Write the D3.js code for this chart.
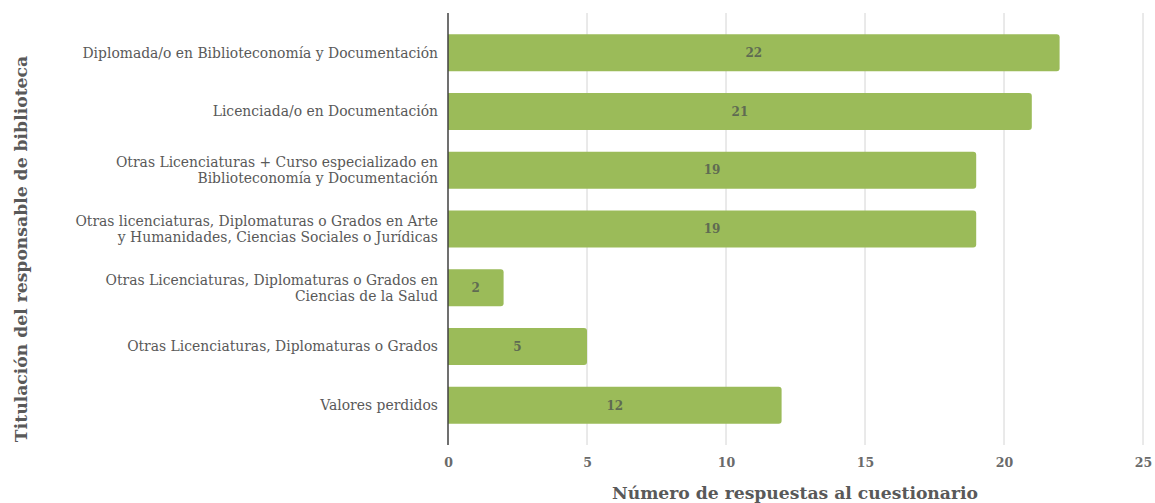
<!DOCTYPE html>
<html>
<head>
<meta charset="utf-8">
<script src="https://cdn.jsdelivr.net/npm/d3@7"></script>
<style>
  html, body { margin: 0; padding: 0; background: #ffffff; }
  svg { display: block; }
  text { font-family: "DejaVu Serif", "Liberation Serif", serif; }
</style>
</head>
<body>
<svg id="chart" width="1155" height="503"></svg>
<script>
// Categories (top to bottom); multi-line labels split on "\n"
const categories = [
  "Diplomada/o en Biblioteconomía y Documentación",
  "Licenciada/o en Documentación",
  "Otras Licenciaturas + Curso especializado en\nBiblioteconomía y Documentación",
  "Otras licenciaturas, Diplomaturas o Grados en Arte\ny Humanidades, Ciencias Sociales o Jurídicas",
  "Otras Licenciaturas, Diplomaturas o Grados en\nCiencias de la Salud",
  "Otras Licenciaturas, Diplomaturas o Grados",
  "Valores perdidos"
];
const values = [22, 21, 19, 19, 2, 5, 12];
const xTicks = [0, 5, 10, 15, 20, 25];
const xTitle = "Número de respuestas al cuestionario";
const yTitle = "Titulación del responsable de biblioteca";

const svg = d3.select("#chart");
const plot = { left: 448, right: 1143, top: 13, bottom: 445 };

const x = d3.scaleLinear().domain([0, 25]).range([plot.left, plot.right]);
const y = d3.scaleBand()
  .domain(categories)
  .range([plot.top, plot.bottom])
  .paddingInner(0.37)
  .paddingOuter(0.36);

const textColor = "#595959";

// Vertical gridlines
svg.append("g")
  .selectAll("line")
  .data(xTicks.filter(d => d > 0))
  .join("line")
  .attr("x1", d => x(d)).attr("x2", d => x(d))
  .attr("y1", plot.top).attr("y2", plot.bottom)
  .attr("stroke", "#d4d4d4")
  .attr("stroke-width", 1);

// Bars with slightly rounded ends
const barColor = "#9bbb59";
const r = 3;
svg.append("g")
  .selectAll("path")
  .data(categories.map((c, i) => ({ c, v: values[i] })))
  .join("path")
  .attr("fill", barColor)
  .attr("d", d => {
    const x0 = x(0), x1 = x(d.v), y0 = y(d.c), h = y.bandwidth();
    return `M${x0},${y0}H${x1 - r}Q${x1},${y0} ${x1},${y0 + r}V${y0 + h - r}Q${x1},${y0 + h} ${x1 - r},${y0 + h}H${x0}Z`;
  });

// Value labels centred in the bars
svg.append("g")
  .selectAll("text")
  .data(categories.map((c, i) => ({ c, v: values[i] })))
  .join("text")
  .attr("x", d => (x(0) + x(d.v)) / 2)
  .attr("y", d => y(d.c) + y.bandwidth() / 2)
  .attr("dy", "0.35em")
  .attr("text-anchor", "middle")
  .attr("font-size", 12)
  .attr("font-weight", "bold")
  .attr("fill", "#5f6b52")
  .text(d => d.v);

// Y axis line
svg.append("line")
  .attr("x1", plot.left).attr("x2", plot.left)
  .attr("y1", plot.top).attr("y2", plot.bottom)
  .attr("stroke", "#404040")
  .attr("stroke-width", 1.5);

// X axis tick labels
const xAxis = d3.axisBottom(x).tickValues(xTicks).tickSize(0).tickPadding(13);
const gx = svg.append("g")
  .attr("transform", `translate(0,${plot.bottom})`)
  .call(xAxis);
gx.select(".domain").remove();
gx.selectAll("text")
  .attr("font-family", "DejaVu Serif, serif")
  .attr("font-size", 12.5)
  .attr("font-weight", "bold")
  .attr("fill", "#6a6a6a");

// Category labels
const gy = svg.append("g");
categories.forEach(c => {
  const lines = c.split("\n");
  const cy = y(c) + y.bandwidth() / 2;
  const lh = 16;
  const t = gy.append("text")
    .attr("text-anchor", "end")
    .attr("font-size", 13.9)
    .attr("fill", textColor);
  lines.forEach((ln, i) => {
    t.append("tspan")
      .attr("x", 438)
      .attr("y", cy + (i - (lines.length - 1) / 2) * lh)
      .attr("dy", "0.35em")
      .text(ln);
  });
});

// Axis titles
svg.append("text")
  .attr("x", 795)
  .attr("y", 499)
  .attr("text-anchor", "middle")
  .attr("font-size", 17.2)
  .attr("font-weight", "bold")
  .attr("fill", textColor)
  .text(xTitle);

svg.append("text")
  .attr("transform", `translate(27,249) rotate(-90)`)
  .attr("text-anchor", "middle")
  .attr("font-size", 17.2)
  .attr("font-weight", "bold")
  .attr("fill", textColor)
  .text(yTitle);
</script>
</body>
</html>
